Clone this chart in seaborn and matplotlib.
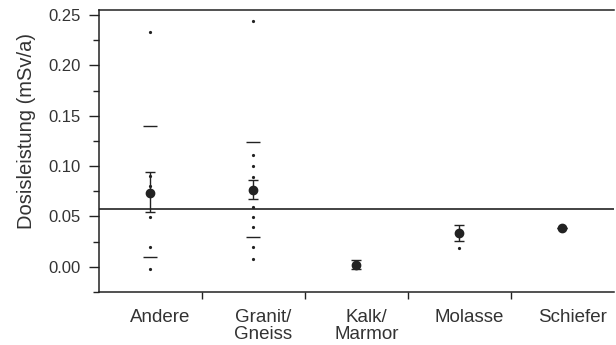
import seaborn as sns
import matplotlib.pyplot as plt
import matplotlib.transforms as mtransforms
import numpy as np
import pandas as pd

# categories and readings (mSv/a)
categories = ["Andere", "Granit/\nGneiss", "Kalk/\nMarmor", "Molasse", "Schiefer"]

andere_pts = [0.233, 0.090, 0.080, 0.070, 0.049, 0.0195, -0.0023]
granit_pts = [0.2437, 0.111, 0.1005, 0.0896, 0.0598, 0.0493, 0.0397, 0.0195, 0.0082]
kalk_pts = [0.005, 0.002, -0.001]
molasse_pts = [0.037, 0.019]
schiefer_pts = []

# percentile dashes
dash_cat = [0, 0, 1, 1]
dash_val = [0.1396, 0.0096, 0.124, 0.0298]

# means with error bars
means = [0.0737, 0.0764, 0.002, 0.0334, 0.039]
err_lo = [0.0546, 0.0675, -0.002, 0.0258, 0.039]
err_hi = [0.0946, 0.0863, 0.007, 0.0413, 0.039]

ref_level = 0.0575

sns.set_style('white')
plt.rcParams['font.family'] = ['Liberation Sans', 'DejaVu Sans']
ink = '#222222'
txt = '#333333'

rows = []
for cat, pts in zip(categories, [andere_pts, granit_pts, kalk_pts, molasse_pts, schiefer_pts]):
    for v in pts:
        rows.append({'Gestein': cat, 'Dosis': v})
df = pd.DataFrame(rows)

fig = plt.figure(figsize=(6.16, 3.45), dpi=100)
ax = fig.add_axes([0.1607, 0.1536, 0.836, 0.8174])

sns.stripplot(data=df, x='Gestein', y='Dosis', order=categories, jitter=False,
              color=ink, size=2.3, linewidth=0, ax=ax)

x = np.arange(len(categories))
ax.errorbar(x, means, yerr=[np.array(means) - np.array(err_lo), np.array(err_hi) - np.array(means)],
            fmt='o', color=ink, markersize=6, elinewidth=1, capsize=3.5, capthick=1)
ax.scatter(dash_cat, dash_val, marker='_', s=90, color=ink, linewidths=1)

ax.axhline(ref_level, color=ink, lw=1.2)

ax.set_xlim(-0.5, 4.5)
ax.set_ylim(-0.024, 0.255)
ax.set_yticks([0.0, 0.05, 0.10, 0.15, 0.20, 0.25])
ax.set_yticklabels(['0.00', '0.05', '0.10', '0.15', '0.20', '0.25'])
ax.set_yticks(np.arange(-0.025, 0.25, 0.05), minor=True)
ax.set_xticks(x)
ax.set_xticklabels(categories)
ax.set_xticks([0.5, 1.5, 2.5, 3.5], minor=True)

ax.tick_params(axis='y', which='major', length=7, width=1, color=ink, labelsize=12,
               labelcolor=txt, direction='out', left=True, pad=6)
ax.tick_params(axis='y', which='minor', length=4, width=1, color=ink, direction='out', left=True)
ax.tick_params(axis='x', which='major', length=0, labelsize=13.5, labelcolor=txt, pad=12)
ax.tick_params(axis='x', which='minor', length=5, width=1, color=ink, direction='out', bottom=True)

offset = mtransforms.ScaledTranslation(10 / 100, 0, fig.dpi_scale_trans)
for lab in ax.get_xticklabels():
    lab.set_transform(lab.get_transform() + offset)
    lab.set_linespacing(1.0)

ax.set_xlabel('')
ax.set_ylabel('Dosisleistung (mSv/a)', fontsize=14.5, color=txt)
ax.yaxis.set_label_coords(-0.122, 0.571)

for side in ['left', 'bottom', 'top']:
    ax.spines[side].set_visible(True)
    ax.spines[side].set_color(ink)
    ax.spines[side].set_linewidth(1.1)
ax.spines['right'].set_visible(False)

fig.savefig('out.png', dpi=100)
